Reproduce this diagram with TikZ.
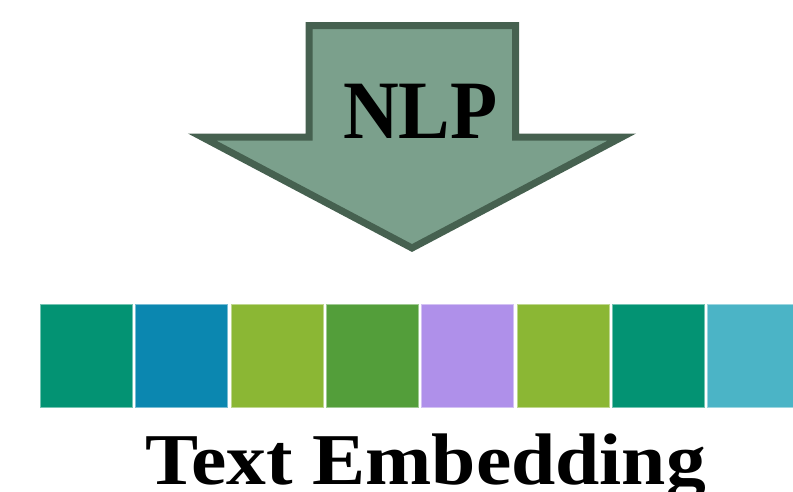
\documentclass[tikz,border=0pt]{standalone}
\usepackage{fontspec}
\setmainfont{Liberation Serif}
\definecolor{arrowfill}{RGB}{123,160,140}
\definecolor{arrowline}{RGB}{70,97,80}
\definecolor{cteal}{RGB}{3,147,115}
\definecolor{cblue}{RGB}{11,135,176}
\definecolor{clime}{RGB}{139,183,52}
\definecolor{cgreen}{RGB}{83,158,58}
\definecolor{cpurple}{RGB}{175,144,234}
\definecolor{ccyan}{RGB}{75,180,198}
\tikzset{
  cell/.style={fill=#1, draw=#1!55!white, line width=0.9pt,
    minimum width=92pt, minimum height=103pt, inner sep=0pt, outer sep=0pt},
  bigarrow/.style={fill=arrowfill, draw=arrowline, line width=7pt, miter limit=10},
}
\begin{document}
\begin{tikzpicture}[x=1pt,y=-1pt]
  \useasboundingbox (0,0) rectangle (793,491);
  \clip (0,0) rectangle (793,491);
  % downward block arrow
  \draw[bigarrow] (309,25.5) -- (515.5,25.5) -- (515.5,137) -- (622,137)
    -- (412,248) -- (202,137) -- (309,137) -- cycle;
  \node[anchor=base west, inner sep=0pt] (nlp) at (343,138)
    {\fontsize{83}{90}\selectfont\bfseries\scalebox{0.93}[1]{NLP}};
  % embedding vector cells
  \foreach \c [count=\i from 0] in {cteal,cblue,clime,cgreen,cpurple,clime,cteal,ccyan} {
    \node[cell=\c] (v\i) at ({86.5+95.3*\i},356) {};
  }
  \node[anchor=base west, inner sep=0pt] (label) at (145,484)
    {\fontsize{73}{80}\selectfont\bfseries\scalebox{1.09}[1]{Text Embedding}};
\end{tikzpicture}
\end{document}
